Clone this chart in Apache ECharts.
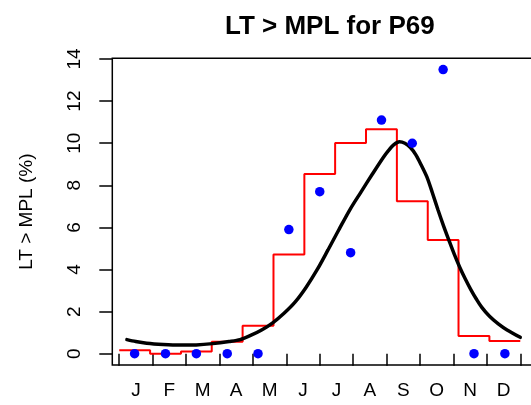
<!DOCTYPE html>
<html>
<head>
<meta charset="utf-8">
<script src="https://cdn.jsdelivr.net/npm/echarts@6/dist/echarts.min.js"></script>
<style>
html,body{margin:0;padding:0;background:#fff;overflow:hidden;}
#c{width:560px;height:405px;}
</style>
</head>
<body>
<div id="c"></div>
<script>
// ---- data ----
const months = ['J','F','M','A','M','J','J','A','S','O','N','D'];
const yTicks = [0, 2, 4, 6, 8, 10, 12, 14];
// 13 four-week periods (day of year)
const periodMid = [14, 42.1, 70.2, 98.3, 126.3, 154.4, 182.5, 210.6, 238.7, 266.7, 294.8, 322.9, 351];
const pointVals = [0, 0, 0, 0, 0, 5.9, 7.7, 4.8, 11.1, 10.0, 13.5, 0, 0];
const stepEdges = [0, 28.1, 56.2, 84.2, 112.3, 140.4, 168.5, 196.5, 224.6, 252.7, 280.8, 308.8, 336.9, 365];
const stepVals = [0.16, 0.0, 0.11, 0.57, 1.33, 4.72, 8.54, 10.01, 10.67, 7.25, 5.40, 0.84, 0.60];
const curveDays = [7, 15, 25, 40, 55, 70, 85, 100, 110, 120, 130, 140, 150, 160, 170, 180, 190, 200, 210, 220, 230, 240, 245, 250, 255, 260, 265, 270, 275, 280, 285, 290, 295, 300, 305, 310, 315, 320, 325, 330, 337, 345, 353, 365];
const curveVals = [0.67, 0.58, 0.50, 0.44, 0.41, 0.42, 0.48, 0.58, 0.67, 0.88, 1.14, 1.48, 1.92, 2.45, 3.15, 3.98, 4.93, 5.9, 6.85, 7.68, 8.5, 9.3, 9.65, 9.93, 10.07, 10.0, 9.8, 9.45, 8.95, 8.4, 7.65, 6.85, 6.1, 5.4, 4.72, 4.1, 3.55, 3.05, 2.6, 2.2, 1.78, 1.42, 1.13, 0.78];

const stepData = stepEdges.map((d, i) => [d, stepVals[Math.min(i, stepVals.length - 1)]]);
const pointData = periodMid.map((d, i) => [d, pointVals[i]]);
const curveData = curveDays.map((d, i) => [d, curveVals[i]]);

const FONT = "'Liberation Sans', Arial, sans-serif";
const chart = echarts.init(document.getElementById('c'), null, {renderer: 'canvas'});
chart.setOption({
  animation: false,
  backgroundColor: '#fff',
  title: {
    text: 'LT > MPL for P69',
    left: 220, top: 9,
    textStyle: {fontFamily: FONT, fontSize: 26, fontWeight: 'bold', color: '#000'}
  },
  grid: [
    {left: 112.3, top: 58.2, width: 431.7, height: 306.9, show: true, borderColor: '#000', borderWidth: 1.5, backgroundColor: 'transparent'},
    {left: 119.2, top: 59.0, width: 401.1, height: 294.7, show: false}
  ],
  xAxis: [
    {type: 'value', gridIndex: 0, min: -6.3, max: 386.6, show: false},
    {type: 'category', gridIndex: 1, data: months, boundaryGap: true, position: 'bottom', offset: 10.6,
     axisLine: {show: false},
     axisTick: {show: true, inside: false, length: 12, lineStyle: {color: '#000', width: 1.5}},
     axisLabel: {margin: 17, fontFamily: FONT, fontSize: 19, color: '#000'},
     splitLine: {show: false}}
  ],
  yAxis: [
    {type: 'value', gridIndex: 0, min: -0.54, max: 14.04, show: true,
     axisLine: {show: false}, axisTick: {show: false}, axisLabel: {show: false}, splitLine: {show: false},
     name: 'LT > MPL (%)', nameLocation: 'middle', nameRotate: 90, nameGap: 76,
     nameTextStyle: {fontFamily: FONT, fontSize: 19, color: '#000'}},
    {type: 'value', gridIndex: 1, min: yTicks[0], max: yTicks[yTicks.length - 1], interval: 2, position: 'left', offset: 6.9,
     axisLine: {show: false},
     axisTick: {show: true, inside: false, length: 13, lineStyle: {color: '#000', width: 1.5}},
     axisLabel: {rotate: 90, margin: 28, fontFamily: FONT, fontSize: 19, color: '#000'},
     splitLine: {show: false}}
  ],
  series: [
    {type: 'line', xAxisIndex: 0, yAxisIndex: 0, data: stepData, step: 'end', symbol: 'none',
     lineStyle: {color: '#ff0000', width: 2}, z: 2},
    {type: 'line', xAxisIndex: 0, yAxisIndex: 0, data: curveData, smooth: 0.3, symbol: 'none',
     lineStyle: {color: '#000', width: 3.5, cap: 'round'}, z: 3},
    {type: 'scatter', xAxisIndex: 0, yAxisIndex: 0, data: pointData, symbol: 'circle', symbolSize: 9.5,
     itemStyle: {color: '#0000ff', opacity: 1}, z: 4}
  ]
});
</script>
</body>
</html>
